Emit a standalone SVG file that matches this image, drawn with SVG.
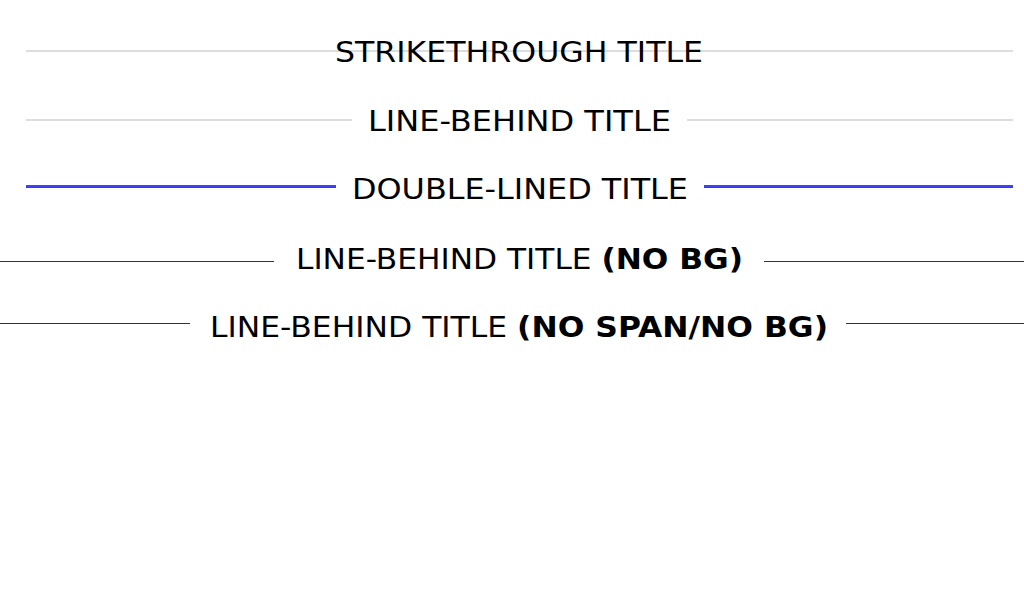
<svg xmlns="http://www.w3.org/2000/svg" width="1024" height="600" viewBox="0 0 1024 600">
<style>
text{font-family:"DejaVu Sans","Liberation Sans",sans-serif;font-size:29px;fill:#000}
.b{font-weight:bold}
.g{stroke:#dddddd;stroke-width:2}
.k{stroke:#333;stroke-width:1}
</style>
<rect width="1024" height="600" fill="#fff"/>
<g id="connectors">
<line class="g" x1="26" y1="51" x2="1013" y2="51"/>
<line class="g" x1="26" y1="120" x2="352" y2="120"/>
<line class="g" x1="687" y1="120" x2="1013" y2="120"/>
<line stroke="#00f" stroke-width="1.5" x1="26" y1="186" x2="336" y2="186"/>
<line stroke="#f00" stroke-width="1" x1="26" y1="187.5" x2="336" y2="187.5"/>
<line stroke="#00f" stroke-width="1.5" x1="704" y1="186" x2="1013" y2="186"/>
<line stroke="#f00" stroke-width="1" x1="704" y1="187.5" x2="1013" y2="187.5"/>
<line class="k" x1="0" y1="261.5" x2="274" y2="261.5"/>
<line class="k" x1="764" y1="261.5" x2="1024" y2="261.5"/>
<line class="k" x1="0" y1="323.5" x2="190" y2="323.5"/>
<line class="k" x1="846" y1="323.5" x2="1024" y2="323.5"/>
</g>
<g id="t1"><text x="335" y="62" textLength="368" lengthAdjust="spacingAndGlyphs">STRIKETHROUGH TITLE</text></g>
<g id="t2"><text x="368" y="131" textLength="303" lengthAdjust="spacingAndGlyphs">LINE-BEHIND TITLE</text></g>
<g id="t3"><text x="352" y="199" textLength="336" lengthAdjust="spacingAndGlyphs">DOUBLE-LINED TITLE</text></g>
<g id="t4"><text x="296" y="269" textLength="447" lengthAdjust="spacingAndGlyphs">LINE-BEHIND TITLE <tspan class="b">(NO BG)</tspan></text></g>
<g id="t5"><text x="210" y="337" textLength="618" lengthAdjust="spacingAndGlyphs">LINE-BEHIND TITLE <tspan class="b">(NO SPAN/NO BG)</tspan></text></g>
</svg>
